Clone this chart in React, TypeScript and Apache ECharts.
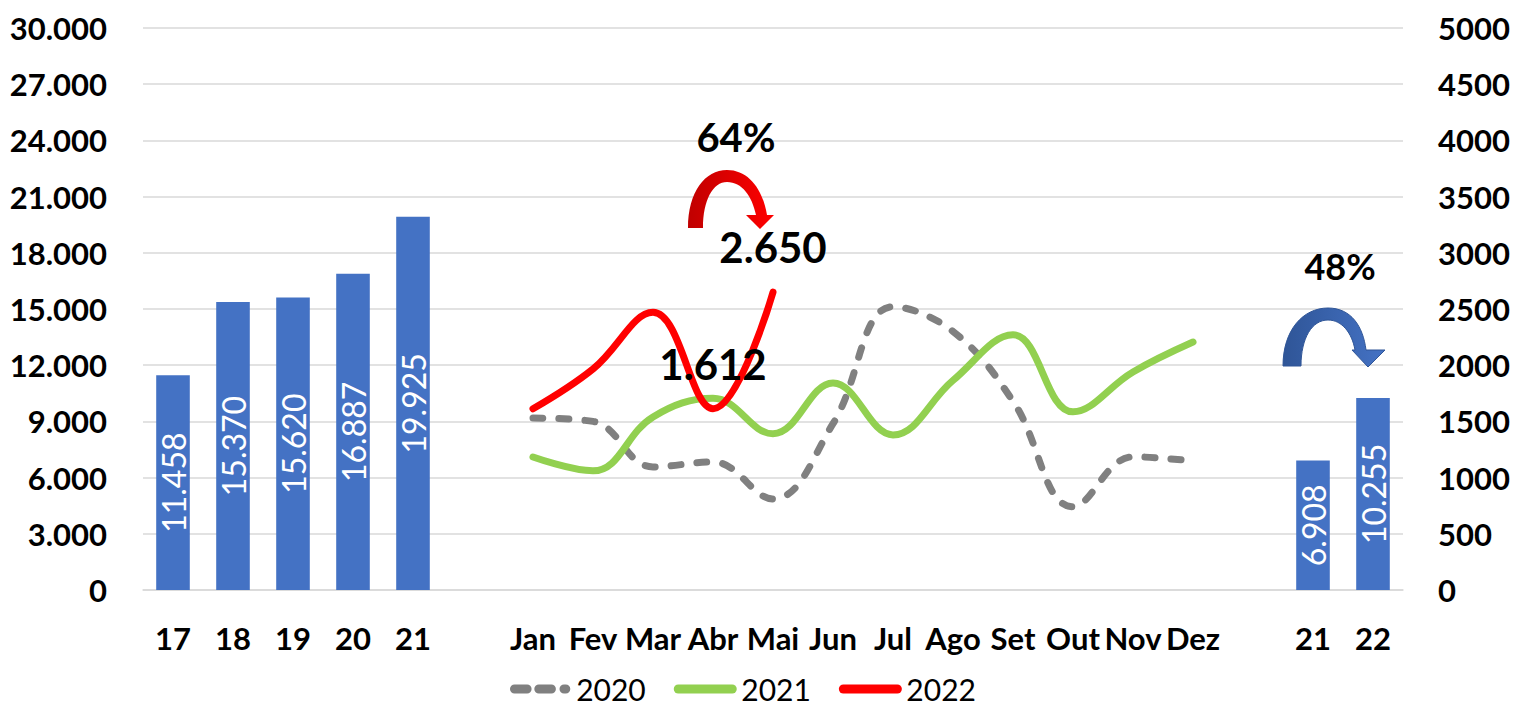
import React, { useEffect, useRef } from "react";
import * as echarts from "echarts";

const categories = [
  "17", "18", "19", "20", "21", "",
  "Jan", "Fev", "Mar", "Abr", "Mai", "Jun", "Jul", "Ago", "Set", "Out", "Nov", "Dez",
  "", "21", "22",
];

const barValues: (number | string)[] = [
  11458, 15370, 15620, 16887, 19925, "-",
  "-", "-", "-", "-", "-", "-", "-", "-", "-", "-", "-", "-",
  "-", 6908, 10255,
];

const pad6 = ["-", "-", "-", "-", "-", "-"];
const pad3 = ["-", "-", "-"];

const months2020 = [1530, 1500, 1095, 1140, 810, 1480, 2520, 2300, 1680, 740, 1185, 1148];
const months2021 = [1183, 1060, 1540, 1705, 1390, 1842, 1380, 1865, 2270, 1585, 1940, 2206];
const months2022 = [1612, 1966, 2470, 1612, 2650];
const labeled2022 = [3, 4];

const leftTicks = { min: 0, max: 30000, interval: 3000 };
const rightTicks = { min: 0, max: 5000, interval: 500 };

const FONT = "Lato, 'Noto Sans', sans-serif";

const fmtDot = (v: number) =>
  String(Math.round(v)).replace(/\B(?=(\d{3})+(?!\d))/g, ".");

const redArrowPath =
  "M 688 228 C 688 192 705 170 727 170 C 749 170 763 190 767 215 L 774 215 L 760 229 L 746 215 L 756 215 C 752 196 742 182 727 182 C 713 182 703 200 703 228 Z";
const blueArrowPath =
  "M 1283 366 C 1283 330 1303 308 1328 308 C 1351 308 1363 326 1366 350 L 1385 350 L 1368 367 L 1352 350 L 1355 350 C 1352 333 1342 320 1328 320 C 1312 320 1301 338 1301 366 Z";

echarts.graphic.registerShape("arrowRed", echarts.graphic.extendPath(redArrowPath, {}));
echarts.graphic.registerShape("arrowBlue", echarts.graphic.extendPath(blueArrowPath, {}));

const dashIcon =
  "path://M5 0H19A5 5 0 0 1 19 10H5A5 5 0 0 1 5 0Z M32 0H46A5 5 0 0 1 46 10H32A5 5 0 0 1 32 0Z M60 0H62A5 5 0 0 1 62 10H60A5 5 0 0 1 60 0Z";
const lineIcon = "path://M5 0H65A5 5 0 0 1 65 10H5A5 5 0 0 1 5 0Z";

export default function App() {
  const ref = useRef<HTMLDivElement>(null);

  useEffect(() => {
    if (!ref.current) return;
    const chart = echarts.init(ref.current, undefined, { renderer: "svg" });

    const data2022 = [
      ...pad6,
      ...months2022.map((v, i) =>
        labeled2022.includes(i)
          ? {
              value: v,
              label: {
                show: true,
                position: "top",
                distance: 24,
                formatter: (p: any) => fmtDot(p.value),
                fontSize: 42,
                fontWeight: "bold",
                fontFamily: FONT,
                color: "#000",
              },
            }
          : v
      ),
      ...["-", "-", "-", "-", "-", "-", "-"],
      ...pad3,
    ];

    chart.setOption({
      animation: false,
      backgroundColor: "#fff",
      grid: { left: 143, right: 111, top: 28, bottom: 123, containLabel: false },
      xAxis: {
        type: "category",
        data: categories,
        boundaryGap: true,
        axisLine: { show: true, lineStyle: { color: "#D9D9D9", width: 1.5 } },
        axisTick: { show: false },
        axisLabel: {
          interval: 0,
          margin: 32,
          fontSize: 31,
          fontWeight: "bold",
          fontFamily: FONT,
          color: "#000",
        },
      },
      yAxis: [
        {
          type: "value",
          ...leftTicks,
          position: "left",
          axisLine: { show: false },
          axisTick: { show: false },
          splitLine: { show: true, lineStyle: { color: "#D9D9D9", width: 1.5 } },
          axisLabel: {
            margin: 36,
            fontSize: 31,
            fontWeight: "bold",
            fontFamily: FONT,
            color: "#000",
            formatter: (v: number) => fmtDot(v),
          },
        },
        {
          type: "value",
          ...rightTicks,
          position: "right",
          axisLine: { show: false },
          axisTick: { show: false },
          splitLine: { show: false },
          axisLabel: {
            margin: 35,
            fontSize: 31,
            fontWeight: "bold",
            fontFamily: FONT,
            color: "#000",
            formatter: (v: number) => String(v),
          },
        },
      ],
      legend: {
        bottom: 4,
        left: 505,
        itemWidth: 70,
        itemHeight: 9,
        itemGap: 28,
        data: [
          { name: "2020", icon: dashIcon, itemStyle: { color: "#808080" } },
          { name: "2021", icon: lineIcon, itemStyle: { color: "#92D050" } },
          { name: "2022", icon: lineIcon, itemStyle: { color: "#FF0000" } },
        ],
        textStyle: { fontSize: 30, fontFamily: FONT, color: "#000", padding: [0, 0, 0, -4] },
      },
      series: [
        {
          name: "bars",
          type: "bar",
          yAxisIndex: 0,
          data: barValues,
          barWidth: "56%",
          itemStyle: { color: "#4472C4" },
          label: {
            show: true,
            position: "inside",
            rotate: 90,
            fontSize: 32,
            fontFamily: FONT,
            color: "#fff",
            formatter: (p: any) => fmtDot(p.value),
          },
        },
        {
          name: "2020",
          type: "line",
          yAxisIndex: 1,
          data: [...pad6, ...months2020, ...pad3],
          smooth: 0.4,
          symbol: "none",
          lineStyle: { color: "#808080", width: 7, type: [10, 16], cap: "round" },
          itemStyle: { color: "#808080" },
        },
        {
          name: "2021",
          type: "line",
          yAxisIndex: 1,
          data: [...pad6, ...months2021, ...pad3],
          smooth: 0.4,
          symbol: "none",
          lineStyle: { color: "#92D050", width: 7, cap: "round" },
          itemStyle: { color: "#92D050" },
        },
        {
          name: "2022",
          type: "line",
          yAxisIndex: 1,
          data: data2022,
          smooth: 0.4,
          symbol: "circle",
          symbolSize: 0,
          showSymbol: true,
          lineStyle: { color: "#FF0000", width: 7, cap: "round" },
          itemStyle: { color: "#FF0000" },
          z: 5,
        },
      ],
      graphic: [
        {
          type: "arrowRed",
          x: 0,
          y: 0,
          z: 100,
          style: {
            fill: new echarts.graphic.LinearGradient(0, 0, 1, 0, [
              { offset: 0, color: "#C00000" },
              { offset: 1, color: "#FF0000" },
            ]),
            stroke: "none",
          },
        },
        {
          type: "arrowBlue",
          x: 0,
          y: 0,
          z: 100,
          style: {
            fill: new echarts.graphic.LinearGradient(0, 0, 1, 0, [
              { offset: 0, color: "#2F5597" },
              { offset: 1, color: "#4472C4" },
            ]),
            stroke: "#2F5597",
            lineWidth: 1,
          },
        },
        {
          type: "text",
          x: 736,
          y: 137,
          z: 100,
          style: {
            text: "64%",
            fontSize: 40,
            fontWeight: "bold",
            fontFamily: FONT,
            fill: "#000",
            align: "center",
            verticalAlign: "middle",
          },
        },
        {
          type: "text",
          x: 1340,
          y: 266,
          z: 100,
          style: {
            text: "48%",
            fontSize: 36,
            fontWeight: "bold",
            fontFamily: FONT,
            fill: "#000",
            align: "center",
            verticalAlign: "middle",
          },
        },
      ],
    });

    return () => chart.dispose();
  }, []);

  return (
    <div
      ref={ref}
      style={{ position: "fixed", left: 0, top: 0, width: 1514, height: 713 }}
    />
  );
}
